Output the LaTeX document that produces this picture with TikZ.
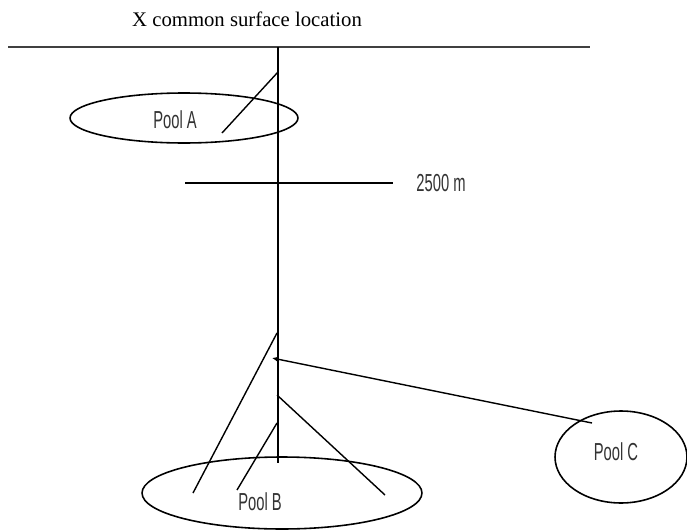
\documentclass[tikz,border=0pt]{standalone}
\usepackage{fontspec}
\setmainfont{Liberation Serif}
\newfontfamily\poolfont{Liberation Sans}
\usetikzlibrary{arrows.meta,shapes.geometric}
\newcommand{\poolname}[1]{\scalebox{0.6}[1]{#1}}

\begin{document}
\begin{tikzpicture}[x=0.02cm, y=-0.02cm,
    pool/.style={draw, ellipse, line width=0.9pt, inner sep=0pt},
    well/.style={line width=1pt},
    branch/.style={line width=0.8pt},
    poollabel/.style={font=\poolfont\fontsize{14}{15}\selectfont, text=black!80, inner sep=0pt}
  ]
    \useasboundingbox (0,0) rectangle (687,531);
    \node[font=\fontsize{11.8}{12}\selectfont] (title) at (247,19) {X common surface location};

    \coordinate (sl) at (8,47);
    \coordinate (sr) at (590,47);
    \draw[line width=1.4pt, black!75] (sl) -- (sr);

    \node[pool, minimum width=4.56cm, minimum height=1.0cm] (poolA) at (184,118) {};
    \node[pool, minimum width=5.6cm, minimum height=1.44cm] (poolB) at (282,493) {};
    \node[pool, minimum width=2.64cm, minimum height=1.84cm] (poolC) at (621,457) {};
    \node[poollabel] (labA) at (175,120) {\poolname{Pool A}};
    \node[poollabel] (labB) at (260,502) {\poolname{Pool B}};
    \node[poollabel] (labC) at (616,452) {\poolname{Pool C}};

    \coordinate (wtop) at (278,47);
    \coordinate (wbot) at (278,463);
    \draw[well] (wtop) -- (wbot);

    \coordinate (dl) at (185,183);
    \coordinate (dr) at (393,183);
    \draw[well] (dl) -- (dr);
    \node[poollabel] (depth) at (441,183) {\poolname{2500 m}};

    \coordinate (a0) at (278,72);
    \coordinate (a1) at (222,133);
    \draw[branch] (a0) -- (a1);

    \coordinate (b0) at (277,333);
    \coordinate (b1) at (193,493);
    \draw[branch] (b0) -- (b1);
    \coordinate (b2) at (277,423);
    \coordinate (b3) at (237,490);
    \draw[branch] (b2) -- (b3);
    \coordinate (b4) at (277,395);
    \coordinate (b5) at (385,495);
    \draw[branch] (b4) -- (b5);

    \coordinate (c0) at (272,358);
    \coordinate (c1) at (592,423);
    \draw[branch, {Latex[length=1.3mm,width=1.2mm]}-] (c0) -- (c1);
\end{tikzpicture}
\end{document}
